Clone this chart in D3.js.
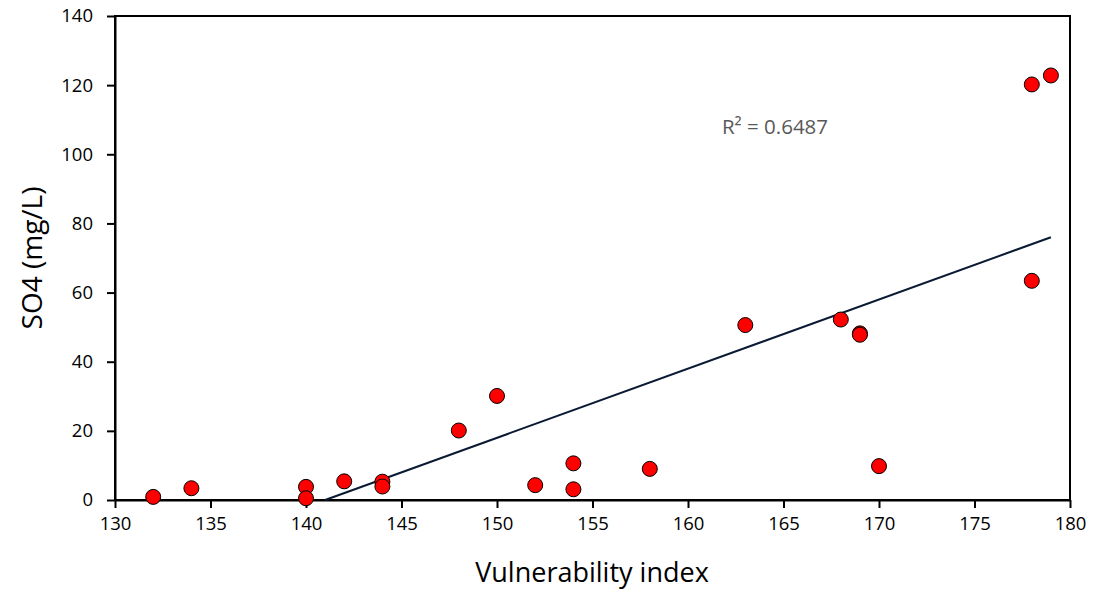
<!DOCTYPE html>
<html><head><meta charset="utf-8">
<script src="https://cdn.jsdelivr.net/npm/d3@7"></script>
<style>body{margin:0;background:#fff;} text{font-family:"Open Sans","Noto Sans",sans-serif;}</style>
</head><body>
<svg id="c" width="1099" height="590"></svg>
<script>
const vulnIndex = [132,134,140,140,142,144,144,148,150,152,154,154,158,163,168,169,169,170,178,178,179];
const so4 =       [0.9,3.4,3.8,0.5,5.4,5.3,3.9,20.1,30.1,4.3,10.6,3.1,9.0,50.6,52.2,48.2,47.8,9.8,63.4,120.2,122.8];
const xTicks = [130,135,140,145,150,155,160,165,170,175,180];
const yTicks = [0,20,40,60,80,100,120,140];
const trendSlope = 2.0, trendIntercept = -282.0;
const r2Label = "R² = 0.6487";

const svg = d3.select("#c");
const L=115, R=1070, T=16, B=500;
const x = d3.scaleLinear().domain([130,180]).range([L,R]);
const y = d3.scaleLinear().domain([0,140]).range([B,T]);

svg.append("rect").attr("x",L).attr("y",T).attr("width",R-L).attr("height",B-T)
  .attr("fill","none").attr("stroke","#000").attr("stroke-width",2);

const xa = svg.append("g").attr("transform",`translate(0,${B})`)
  .call(d3.axisBottom(x).tickValues(xTicks).tickSize(8).tickSizeOuter(0).tickPadding(9));
const ya = svg.append("g").attr("transform",`translate(${L},0)`)
  .call(d3.axisLeft(y).tickValues(yTicks).tickSize(8).tickSizeOuter(0).tickPadding(14));
[xa,ya].forEach(a=>{
  a.select(".domain").attr("stroke","#000").attr("stroke-width",2);
  a.selectAll(".tick line").attr("stroke","#000").attr("stroke-width",2);
  a.selectAll(".tick text").attr("fill","#000").style("font-size","18.5px");
});

const x0 = -trendIntercept/trendSlope, x1 = 179;
svg.append("line").attr("x1",x(x0)).attr("y1",y(trendSlope*x0+trendIntercept))
  .attr("x2",x(x1)).attr("y2",y(trendSlope*x1+trendIntercept))
  .attr("stroke","#0a1a33").attr("stroke-width",2);

svg.append("g").selectAll("circle").data(vulnIndex.map((v,i)=>[v,so4[i]])).join("circle")
  .attr("cx",d=>x(d[0])).attr("cy",d=>y(d[1])).attr("r",7.5)
  .attr("fill","#ff0000").attr("stroke","#000").attr("stroke-width",1);

svg.append("text").attr("x",775).attr("y",134).attr("text-anchor","middle")
  .attr("fill","#595959").style("font-size","20.5px").text(r2Label);

svg.append("text").attr("x",592).attr("y",582).attr("text-anchor","middle")
  .attr("fill","#000").style("font-size","27px").text("Vulnerability index");
svg.append("text").attr("transform","translate(42,258) rotate(-90)").attr("text-anchor","middle")
  .attr("fill","#000").style("font-size","28px").text("SO4 (mg/L)");
</script>
</body></html>
